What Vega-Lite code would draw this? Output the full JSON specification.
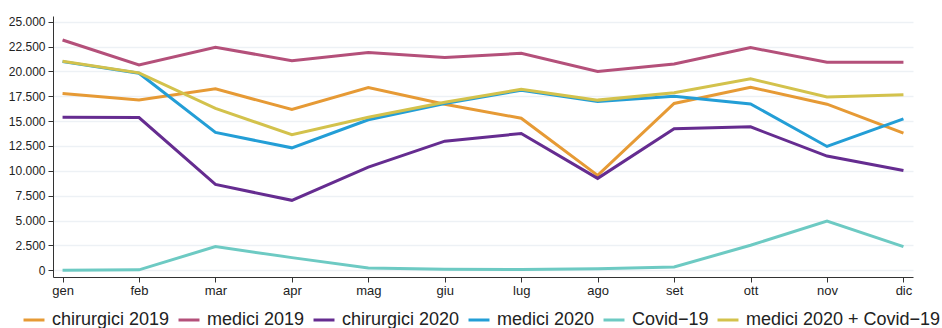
{
  "$schema": "https://vega.github.io/schema/vega-lite/v6.json",
  "width": 860,
  "height": 261,
  "padding": {"left": 8, "top": 15, "right": 0, "bottom": 0},
  "autosize": {"type": "pad"},
  "background": "white",
  "config": {
    "font": "Liberation Sans",
    "view": {"stroke": null},
    "locale": {"number": {"decimal": ",", "thousands": ".", "grouping": [3], "currency": ["", " €"]}}
  },
  "data": {
    "values": [
      {"mese": "gen", "serie": "chirurgici 2019", "valore": 17770},
      {"mese": "feb", "serie": "chirurgici 2019", "valore": 17130},
      {"mese": "mar", "serie": "chirurgici 2019", "valore": 18240},
      {"mese": "apr", "serie": "chirurgici 2019", "valore": 16160},
      {"mese": "mag", "serie": "chirurgici 2019", "valore": 18370},
      {"mese": "giu", "serie": "chirurgici 2019", "valore": 16700},
      {"mese": "lug", "serie": "chirurgici 2019", "valore": 15290},
      {"mese": "ago", "serie": "chirurgici 2019", "valore": 9540},
      {"mese": "set", "serie": "chirurgici 2019", "valore": 16770},
      {"mese": "ott", "serie": "chirurgici 2019", "valore": 18400},
      {"mese": "nov", "serie": "chirurgici 2019", "valore": 16700},
      {"mese": "dic", "serie": "chirurgici 2019", "valore": 13790},
      {"mese": "gen", "serie": "medici 2019", "valore": 23160},
      {"mese": "feb", "serie": "medici 2019", "valore": 20650},
      {"mese": "mar", "serie": "medici 2019", "valore": 22420},
      {"mese": "apr", "serie": "medici 2019", "valore": 21080},
      {"mese": "mag", "serie": "medici 2019", "valore": 21890},
      {"mese": "giu", "serie": "medici 2019", "valore": 21390},
      {"mese": "lug", "serie": "medici 2019", "valore": 21820},
      {"mese": "ago", "serie": "medici 2019", "valore": 19980},
      {"mese": "set", "serie": "medici 2019", "valore": 20750},
      {"mese": "ott", "serie": "medici 2019", "valore": 22390},
      {"mese": "nov", "serie": "medici 2019", "valore": 20920},
      {"mese": "dic", "serie": "medici 2019", "valore": 20930},
      {"mese": "gen", "serie": "chirurgici 2020", "valore": 15390},
      {"mese": "feb", "serie": "chirurgici 2020", "valore": 15360},
      {"mese": "mar", "serie": "chirurgici 2020", "valore": 8630},
      {"mese": "apr", "serie": "chirurgici 2020", "valore": 7030},
      {"mese": "mag", "serie": "chirurgici 2020", "valore": 10370},
      {"mese": "giu", "serie": "chirurgici 2020", "valore": 12980},
      {"mese": "lug", "serie": "chirurgici 2020", "valore": 13750},
      {"mese": "ago", "serie": "chirurgici 2020", "valore": 9240},
      {"mese": "set", "serie": "chirurgici 2020", "valore": 14220},
      {"mese": "ott", "serie": "chirurgici 2020", "valore": 14420},
      {"mese": "nov", "serie": "chirurgici 2020", "valore": 11480},
      {"mese": "dic", "serie": "chirurgici 2020", "valore": 10040},
      {"mese": "gen", "serie": "medici 2020", "valore": 20980},
      {"mese": "feb", "serie": "medici 2020", "valore": 19810},
      {"mese": "mar", "serie": "medici 2020", "valore": 13860},
      {"mese": "apr", "serie": "medici 2020", "valore": 12310},
      {"mese": "mag", "serie": "medici 2020", "valore": 15130},
      {"mese": "giu", "serie": "medici 2020", "valore": 16770},
      {"mese": "lug", "serie": "medici 2020", "valore": 18100},
      {"mese": "ago", "serie": "medici 2020", "valore": 16970},
      {"mese": "set", "serie": "medici 2020", "valore": 17500},
      {"mese": "ott", "serie": "medici 2020", "valore": 16730},
      {"mese": "nov", "serie": "medici 2020", "valore": 12450},
      {"mese": "dic", "serie": "medici 2020", "valore": 15230},
      {"mese": "gen", "serie": "Covid−19", "valore": 0},
      {"mese": "feb", "serie": "Covid−19", "valore": 40},
      {"mese": "mar", "serie": "Covid−19", "valore": 2380},
      {"mese": "apr", "serie": "Covid−19", "valore": 1270},
      {"mese": "mag", "serie": "Covid−19", "valore": 230},
      {"mese": "giu", "serie": "Covid−19", "valore": 110},
      {"mese": "lug", "serie": "Covid−19", "valore": 80},
      {"mese": "ago", "serie": "Covid−19", "valore": 150},
      {"mese": "set", "serie": "Covid−19", "valore": 330},
      {"mese": "ott", "serie": "Covid−19", "valore": 2510},
      {"mese": "nov", "serie": "Covid−19", "valore": 4950},
      {"mese": "dic", "serie": "Covid−19", "valore": 2380},
      {"mese": "gen", "serie": "medici 2020 + Covid−19", "valore": 21020},
      {"mese": "feb", "serie": "medici 2020 + Covid−19", "valore": 19850},
      {"mese": "mar", "serie": "medici 2020 + Covid−19", "valore": 16270},
      {"mese": "apr", "serie": "medici 2020 + Covid−19", "valore": 13630},
      {"mese": "mag", "serie": "medici 2020 + Covid−19", "valore": 15380},
      {"mese": "giu", "serie": "medici 2020 + Covid−19", "valore": 16900},
      {"mese": "lug", "serie": "medici 2020 + Covid−19", "valore": 18190},
      {"mese": "ago", "serie": "medici 2020 + Covid−19", "valore": 17110},
      {"mese": "set", "serie": "medici 2020 + Covid−19", "valore": 17860},
      {"mese": "ott", "serie": "medici 2020 + Covid−19", "valore": 19260},
      {"mese": "nov", "serie": "medici 2020 + Covid−19", "valore": 17420},
      {"mese": "dic", "serie": "medici 2020 + Covid−19", "valore": 17640}
    ]
  },
  "mark": {"type": "line", "strokeWidth": 3},
  "encoding": {
    "x": {
      "field": "mese",
      "type": "ordinal",
      "sort": ["gen", "feb", "mar", "apr", "mag", "giu", "lug", "ago", "set", "ott", "nov", "dic"],
      "scale": {"type": "point", "padding": 0.125},
      "axis": {
        "title": null,
        "labelAngle": 0,
        "labelFontSize": 13,
        "labelColor": "#222",
        "domainColor": "#333",
        "tickColor": "#333",
        "tickSize": 5,
        "labelPadding": 2,
        "grid": false
      }
    },
    "y": {
      "field": "valore",
      "type": "quantitative",
      "scale": {"domain": [-680, 25570], "nice": false, "zero": false},
      "axis": {
        "title": null,
        "values": [0, 2500, 5000, 7500, 10000, 12500, 15000, 17500, 20000, 22500, 25000],
        "format": ",d",
        "labelFontSize": 12,
        "labelColor": "#222",
        "domainColor": "#333",
        "tickColor": "#333",
        "tickSize": 5,
        "labelPadding": 3,
        "grid": true,
        "gridColor": "#edf1f5",
        "gridWidth": 1.5
      }
    },
    "color": {
      "field": "serie",
      "type": "nominal",
      "sort": ["chirurgici 2019", "medici 2019", "chirurgici 2020", "medici 2020", "Covid−19", "medici 2020 + Covid−19"],
      "scale": {
        "domain": ["chirurgici 2019", "medici 2019", "chirurgici 2020", "medici 2020", "Covid−19", "medici 2020 + Covid−19"],
        "range": ["#E69A35", "#B4507A", "#652C90", "#239ED6", "#6DCAC3", "#D3C24C"]
      },
      "legend": {
        "title": null,
        "orient": "none",
        "legendX": -31,
        "legendY": 292,
        "direction": "horizontal",
        "columns": 6,
        "symbolType": "stroke",
        "symbolStrokeWidth": 3,
        "symbolSize": 440,
        "labelFontSize": 18,
        "labelColor": "#222",
        "columnPadding": 2,
        "labelOffset": 6,
        "labelLimit": 300
      }
    }
  }
}
